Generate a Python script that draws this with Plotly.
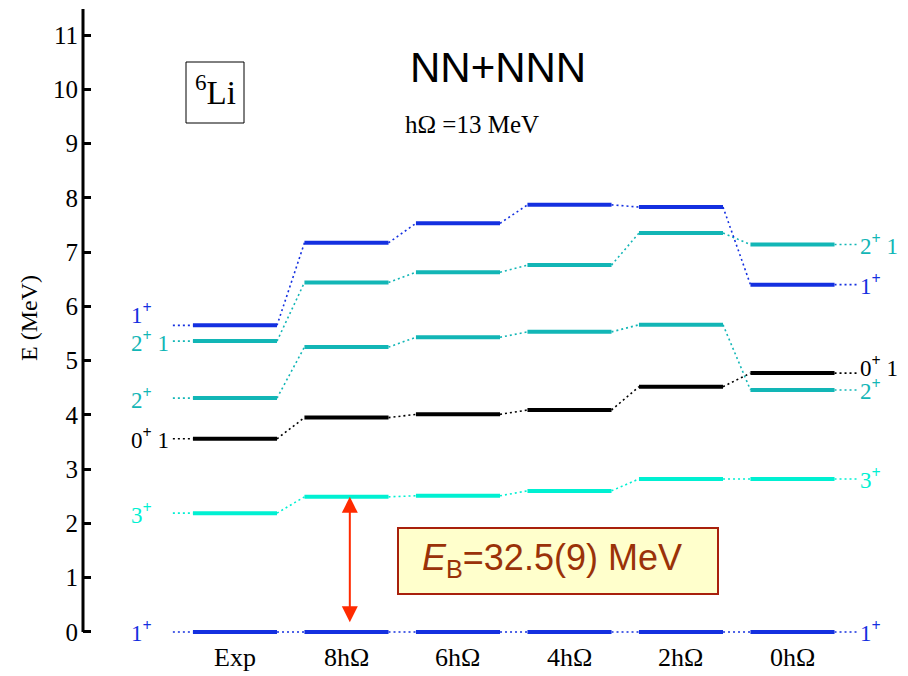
import plotly.graph_objects as go

# Calculation columns (experiment followed by model-space sizes)
columns = ["Exp", "8hΩ", "6hΩ", "4hΩ", "2hΩ", "0hΩ"]

# Excitation energies (MeV) of each 6Li state in every column
e_1plus_gs = [0.0, 0.0, 0.0, 0.0, 0.0, 0.0]
e_3plus = [2.19, 2.49, 2.51, 2.60, 2.82, 2.82]
e_0plus_1 = [3.56, 3.95, 4.01, 4.09, 4.52, 4.77]
e_2plus = [4.31, 5.25, 5.43, 5.53, 5.66, 4.46]
e_2plus_1 = [5.36, 6.44, 6.63, 6.76, 7.35, 7.14]
e_1plus_2 = [5.65, 7.17, 7.53, 7.87, 7.83, 6.40]

# State labels (left of Exp / right of 0hΩ) and colours
state_names = ["1<sup><b>+</b></sup>", "3<sup><b>+</b></sup>", "0<sup><b>+</b></sup> 1",
               "2<sup><b>+</b></sup>", "2<sup><b>+</b></sup> 1", "1<sup><b>+</b></sup>"]
state_colors = ["#1430e0", "#00f0d2", "#000000", "#12b6b6", "#12b6b6", "#1430e0"]
# small vertical nudges so neighbouring labels do not collide
left_nudge = [0.0, 0.0, 0.0, 0.0, 0.0, 0.22]
right_nudge = [0.0, 0.0, 0.13, 0.0, 0.0, 0.0]

states = [e_1plus_gs, e_3plus, e_0plus_1, e_2plus, e_2plus_1, e_1plus_2]

binding_text = "<i>E</i><sub>B</sub>=32.5(9) MeV"

HALF = 0.377          # half width of a level bar (x units)
LEAD = 0.18           # length of the dotted lead-in at either end
SERIF = "Liberation Serif"
SANS = "Liberation Sans"

fig = go.Figure()

for levels, color in zip(states, state_colors):
    n = len(levels)
    # solid level bars
    xs, ys = [], []
    for i, e in enumerate(levels):
        xs += [i - HALF, i + HALF, None]
        ys += [e, e, None]
    fig.add_trace(go.Scatter(x=xs, y=ys, mode="lines",
                             line=dict(color=color, width=4),
                             hoverinfo="skip", showlegend=False))
    # dotted connectors between columns plus the two lead-ins
    dx, dy = [-HALF - LEAD, -HALF, None], [levels[0], levels[0], None]
    for i in range(n - 1):
        dx += [i + HALF, i + 1 - HALF, None]
        dy += [levels[i], levels[i + 1], None]
    dx += [n - 1 + HALF, n - 1 + HALF + LEAD + 0.02]
    dy += [levels[-1], levels[-1]]
    fig.add_trace(go.Scatter(x=dx, y=dy, mode="lines",
                             line=dict(color=color, width=1.6, dash="2px,3px"),
                             hoverinfo="skip", showlegend=False))

annotations = []
for levels, name, color, ln, rn in zip(states, state_names, state_colors, left_nudge, right_nudge):
    annotations.append(dict(x=-0.95, y=levels[0] + ln, xref="x", yref="y", text=name,
                            showarrow=False, xanchor="left", yanchor="middle",
                            font=dict(family=SERIF, size=23, color=color)))
    annotations.append(dict(x=5.587, y=levels[-1] + rn, xref="x", yref="y", text=name,
                            showarrow=False, xanchor="left", yanchor="middle",
                            font=dict(family=SERIF, size=23, color=color)))

# column names under the bars
for i, c in enumerate(columns):
    annotations.append(dict(x=i, y=-0.47, xref="x", yref="y", text=c, showarrow=False,
                            xanchor="center", yanchor="middle",
                            font=dict(family=SERIF, size=26, color="black")))

# double-headed arrow spanning the 8hΩ ground state to its 3+ level
annotations.append(dict(x=1.03, y=e_3plus[1], ax=1.03, ay=e_1plus_gs[1] + 0.15,
                        xref="x", yref="y", axref="x", ayref="y", text="",
                        showarrow=True, arrowhead=2, arrowsize=1.6, arrowwidth=2,
                        arrowside="end+start", startarrowhead=2, startarrowsize=1.6,
                        arrowcolor="#ff2a00", standoff=0, startstandoff=0))

def px_x(p):
    return (p - 83) / 825.0

def px_y(p):
    return 1 - p / 676.0

def centred(**kw):
    kw.update(xref="paper", yref="paper", showarrow=False, xanchor="center", yanchor="middle")
    return kw

# titles
annotations += [
    centred(x=px_x(498), y=px_y(68), text="NN+NNN",
            font=dict(family=SANS, size=42, color="black")),
    centred(x=px_x(472), y=px_y(124), text="hΩ =13 MeV",
            font=dict(family=SERIF, size=25, color="black")),
    centred(x=px_x(215), y=px_y(90), text="<sup>6</sup>Li",
            font=dict(family=SERIF, size=33, color="black")),
    centred(x=px_x(552), y=px_y(560), text=binding_text,
            font=dict(family=SANS, size=36, color="#9a3208")),
    centred(x=px_x(29), y=px_y(318), text="E (MeV)", textangle=-90,
            font=dict(family=SERIF, size=24, color="black")),
]

shapes = [
    # left axis line
    dict(type="line", xref="paper", yref="y", x0=0, x1=0, y0=0, y1=11.48,
         line=dict(color="black", width=3)),
    # nucleus box
    dict(type="rect", xref="paper", yref="paper", x0=px_x(186), x1=px_x(244),
         y0=px_y(62), y1=px_y(123), line=dict(color="black", width=1)),
    # binding energy box
    dict(type="rect", xref="paper", yref="paper", x0=px_x(398), x1=px_x(718),
         y0=px_y(528), y1=px_y(594), fillcolor="#ffffcc",
         line=dict(color="#a8200c", width=2), layer="below"),
]

fig.update_layout(
    width=908, height=676,
    margin=dict(l=83, r=0, t=0, b=0),
    paper_bgcolor="white", plot_bgcolor="white",
    xaxis=dict(range=[-1.363, 6.036], visible=False, fixedrange=True),
    yaxis=dict(range=[-0.811, 11.645], showgrid=False, zeroline=False, showline=False,
               tickvals=list(range(12)), ticks="inside", ticklen=8, tickwidth=3,
               tickcolor="black", ticklabelstandoff=4,
               tickfont=dict(family=SERIF, size=25, color="black"), fixedrange=True),
    annotations=annotations,
    shapes=shapes,
    showlegend=False,
)

fig.write_html("out.html")
